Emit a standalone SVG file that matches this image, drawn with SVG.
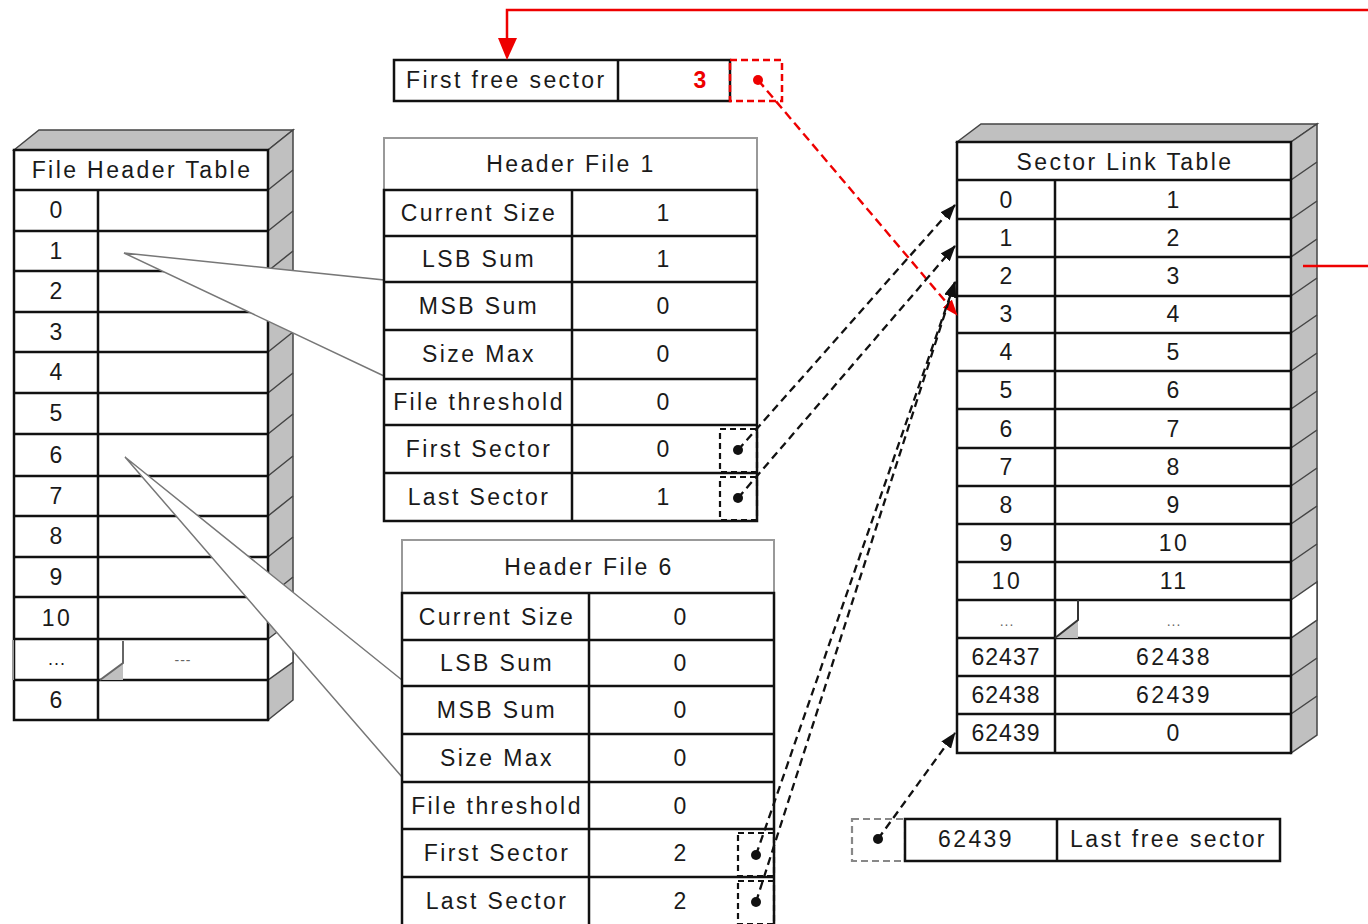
<svg xmlns="http://www.w3.org/2000/svg" width="1368" height="924" viewBox="0 0 1368 924">
<style>
.t{font-family:"Liberation Sans",Arial,sans-serif;font-size:23px;letter-spacing:2.4px;fill:#1a1a1a;text-anchor:middle}
.tl{text-anchor:start}
.red{fill:#ee0000}
.small{font-size:14px;fill:#666;letter-spacing:1px}
.cell{fill:#fff;stroke:#111;stroke-width:2.5}
.ln{stroke:#111;stroke-width:2.5;fill:none}
.face{fill:#c0c0c0;stroke:#444;stroke-width:1.5}
.hatch{stroke:#444;stroke-width:1.5;fill:none}
.title{fill:#fff;stroke:#999;stroke-width:2}
.dbox{fill:none;stroke:#111;stroke-width:2.2;stroke-dasharray:6 4}
.dboxg{fill:none;stroke:#888;stroke-width:2.2;stroke-dasharray:7 4}
.dboxr{fill:none;stroke:#ee0000;stroke-width:2.5;stroke-dasharray:7 4}
.dash{stroke:#111;stroke-width:2.3;stroke-dasharray:8 5;fill:none}
.dashr{stroke:#ee0000;stroke-width:2.4;stroke-dasharray:9 5;fill:none}
.call{fill:#fff;stroke:#777;stroke-width:1.5}
</style>
<defs>
<marker id="ah" markerUnits="userSpaceOnUse" markerWidth="16" markerHeight="12" refX="15" refY="6" orient="auto"><path d="M0,0 L16,6 L0,12 z" fill="#111"/></marker>
<marker id="ahr" markerUnits="userSpaceOnUse" markerWidth="16" markerHeight="12" refX="15" refY="6" orient="auto"><path d="M0,0 L16,6 L0,12 z" fill="#ee0000"/></marker>
</defs>
<rect width="1368" height="924" fill="#fff"/>

<g id="file-header-table">
<polygon class="face" points="14,150 39,130 293,130 268,150"/>
<polygon class="face" points="268,150 293,130 293,700 268,720"/>
<path class="hatch" d="M268,190 L293,170 M268,231 L293,211 M268,271 L293,251 M268,312 L293,292 M268,352 L293,332 M268,393 L293,373 M268,434 L293,414 M268,476 L293,456 M268,516 L293,496 M268,557 L293,537 M268,597 L293,577"/>
<polygon points="268,639 293,620 293,662 268,680" fill="#fff" stroke="#444" stroke-width="1.5"/>
<rect class="cell" x="14" y="150" width="254" height="570"/>
<path class="ln" d="M14,190 H268 M98,190 V720 M14,231 H268 M14,271 H268 M14,312 H268 M14,352 H268 M14,393 H268 M14,434 H268 M14,476 H268 M14,516 H268 M14,557 H268 M14,597 H268 M14,639 H268 M14,680 H268"/>
<polygon points="100,680 123,663 123,680" fill="#c0c0c0"/>
<path d="M123,641 V663 L100,680" stroke="#666" stroke-width="2" fill="none"/>
<line x1="13" y1="640" x2="13" y2="680" stroke="#999" stroke-width="2"/>
<text class="t" x="142" y="178">File Header Table</text>
<text class="t" x="57" y="218">0</text>
<text class="t" x="57" y="259">1</text>
<text class="t" x="57" y="299">2</text>
<text class="t" x="57" y="340">3</text>
<text class="t" x="57" y="380">4</text>
<text class="t" x="57" y="421">5</text>
<text class="t" x="57" y="463">6</text>
<text class="t" x="57" y="504">7</text>
<text class="t" x="57" y="544">8</text>
<text class="t" x="57" y="585">9</text>
<text class="t" x="57" y="626">10</text>
<text class="t" x="57" y="665" style="font-size:18px;letter-spacing:1px">...</text>
<text class="t small" x="183" y="665">---</text>
<text class="t" x="57" y="708">6</text>
</g>

<g id="callouts">
<polygon class="call" points="124,253 384,280 384,376"/>
<polygon class="call" points="125,457 402,680 402,777"/>
</g>

<g id="first-free-sector">
<rect class="cell" x="394" y="60" width="336" height="41"/>
<line class="ln" x1="618" y1="60" x2="618" y2="101"/>
<text class="t tl" x="406" y="88">First free sector</text>
<text class="t red" x="700" y="88" style="font-weight:bold;letter-spacing:0">3</text>
<rect class="dboxr" x="730" y="60" width="52" height="41"/>
<circle cx="758" cy="80" r="5" fill="#ee0000"/>
</g>

<g id="header-file-1">
<rect class="title" x="384" y="138" width="373" height="52"/>
<rect class="cell" x="384" y="190" width="373" height="331"/>
<path class="ln" d="M572,190 V521 M384,236 H757 M384,282 H757 M384,330 H757 M384,379 H757 M384,425 H757 M384,473 H757"/>
<text class="t" x="571" y="172">Header File 1</text>
<text class="t" x="479" y="221">Current Size</text>
<text class="t" x="479" y="267">LSB Sum</text>
<text class="t" x="479" y="314">MSB Sum</text>
<text class="t" x="479" y="362">Size Max</text>
<text class="t" x="479" y="410">File threshold</text>
<text class="t" x="479" y="457">First Sector</text>
<text class="t" x="479" y="505">Last Sector</text>
<text class="t" x="664" y="221">1</text>
<text class="t" x="664" y="267">1</text>
<text class="t" x="664" y="314">0</text>
<text class="t" x="664" y="362">0</text>
<text class="t" x="664" y="410">0</text>
<text class="t" x="664" y="457">0</text>
<text class="t" x="664" y="505">1</text>
<rect class="dbox" x="720" y="429" width="37" height="43"/>
<rect class="dbox" x="720" y="477" width="37" height="43"/>
<circle cx="738" cy="450" r="5" fill="#111"/>
<circle cx="738" cy="498" r="5" fill="#111"/>
</g>

<g id="header-file-6">
<rect class="title" x="402" y="540" width="372" height="53"/>
<rect class="cell" x="402" y="593" width="372" height="340"/>
<path class="ln" d="M589,593 V930 M402,640 H774 M402,686 H774 M402,734 H774 M402,782 H774 M402,829 H774 M402,877 H774"/>
<text class="t" x="589" y="575">Header File 6</text>
<text class="t" x="497" y="625">Current Size</text>
<text class="t" x="497" y="671">LSB Sum</text>
<text class="t" x="497" y="718">MSB Sum</text>
<text class="t" x="497" y="766">Size Max</text>
<text class="t" x="497" y="814">File threshold</text>
<text class="t" x="497" y="861">First Sector</text>
<text class="t" x="497" y="909">Last Sector</text>
<text class="t" x="681" y="625">0</text>
<text class="t" x="681" y="671">0</text>
<text class="t" x="681" y="718">0</text>
<text class="t" x="681" y="766">0</text>
<text class="t" x="681" y="814">0</text>
<text class="t" x="681" y="861">2</text>
<text class="t" x="681" y="909">2</text>
<rect class="dbox" x="738" y="833" width="36" height="43"/>
<rect class="dbox" x="738" y="881" width="36" height="43"/>
<circle cx="756" cy="855" r="5" fill="#111"/>
<circle cx="756" cy="902" r="5" fill="#111"/>
</g>

<g id="sector-link-table">
<polygon class="face" points="957,142 981,124 1317,124 1291,142"/>
<polygon class="face" points="1291,142 1317,124 1317,735 1291,753"/>
<path class="hatch" d="M1291,180 L1317,162 M1291,219 L1317,201 M1291,257 L1317,239 M1291,296 L1317,278 M1291,333 L1317,315 M1291,371 L1317,353 M1291,409 L1317,391 M1291,448 L1317,430 M1291,486 L1317,468 M1291,524 L1317,506 M1291,562 L1317,544 M1291,676 L1317,658 M1291,714 L1317,696"/>
<polygon points="1291,600 1317,582 1317,620 1291,638" fill="#fff" stroke="#444" stroke-width="1.5"/>
<rect class="cell" x="957" y="142" width="334" height="611"/>
<path class="ln" d="M957,180 H1291 M1055,180 V753 M957,219 H1291 M957,257 H1291 M957,296 H1291 M957,333 H1291 M957,371 H1291 M957,409 H1291 M957,448 H1291 M957,486 H1291 M957,524 H1291 M957,562 H1291 M957,600 H1291 M957,638 H1291 M957,676 H1291 M957,714 H1291"/>
<polygon points="1055,638 1078,620 1078,638" fill="#c0c0c0"/>
<path d="M1078,600 V620 L1055,638" stroke="#333" stroke-width="2" fill="none"/>
<text class="t" x="1125" y="170">Sector Link Table</text>
<text class="t" x="1007" y="208">0</text><text class="t" x="1174" y="208">1</text>
<text class="t" x="1007" y="246">1</text><text class="t" x="1174" y="246">2</text>
<text class="t" x="1007" y="284">2</text><text class="t" x="1174" y="284">3</text>
<text class="t" x="1007" y="322">3</text><text class="t" x="1174" y="322">4</text>
<text class="t" x="1007" y="360">4</text><text class="t" x="1174" y="360">5</text>
<text class="t" x="1007" y="398">5</text><text class="t" x="1174" y="398">6</text>
<text class="t" x="1007" y="437">6</text><text class="t" x="1174" y="437">7</text>
<text class="t" x="1007" y="475">7</text><text class="t" x="1174" y="475">8</text>
<text class="t" x="1007" y="513">8</text><text class="t" x="1174" y="513">9</text>
<text class="t" x="1007" y="551">9</text><text class="t" x="1174" y="551">10</text>
<text class="t" x="1007" y="589">10</text><text class="t" x="1174" y="589">11</text>
<text class="t small" x="1007" y="626">...</text><text class="t small" x="1174" y="626">...</text>
<text class="t" x="1006" y="665" style="letter-spacing:1px">62437</text><text class="t" x="1174" y="665">62438</text>
<text class="t" x="1006" y="703" style="letter-spacing:1px">62438</text><text class="t" x="1174" y="703">62439</text>
<text class="t" x="1006" y="741" style="letter-spacing:1px">62439</text><text class="t" x="1174" y="741">0</text>
</g>

<g id="last-free-sector">
<rect class="dboxg" x="852" y="819" width="53" height="42"/>
<circle cx="878" cy="839" r="5" fill="#111"/>
<rect class="cell" x="905" y="819" width="375" height="42"/>
<line class="ln" x1="1057" y1="819" x2="1057" y2="861"/>
<text class="t" x="976" y="847">62439</text>
<text class="t tl" x="1070" y="847">Last free sector</text>
</g>

<g id="connectors">
<path d="M1368,10 H507 V40" stroke="#ee0000" stroke-width="2.5" fill="none"/>
<polygon points="498,38 517,38 507,60" fill="#ee0000"/>
<line x1="1303" y1="266" x2="1368" y2="266" stroke="#ee0000" stroke-width="2.5"/>
<line class="dashr" x1="758" y1="80" x2="957" y2="315" marker-end="url(#ahr)"/>
<line class="dash" x1="738" y1="450" x2="955" y2="205" marker-end="url(#ah)"/>
<line class="dash" x1="738" y1="498" x2="955" y2="246" marker-end="url(#ah)"/>
<line class="dash" x1="756" y1="855" x2="955" y2="282" marker-end="url(#ah)"/>
<line class="dash" x1="756" y1="902" x2="955" y2="282" marker-end="url(#ah)"/>
<line class="dash" x1="878" y1="839" x2="955" y2="733" marker-end="url(#ah)"/>
</g>
</svg>
